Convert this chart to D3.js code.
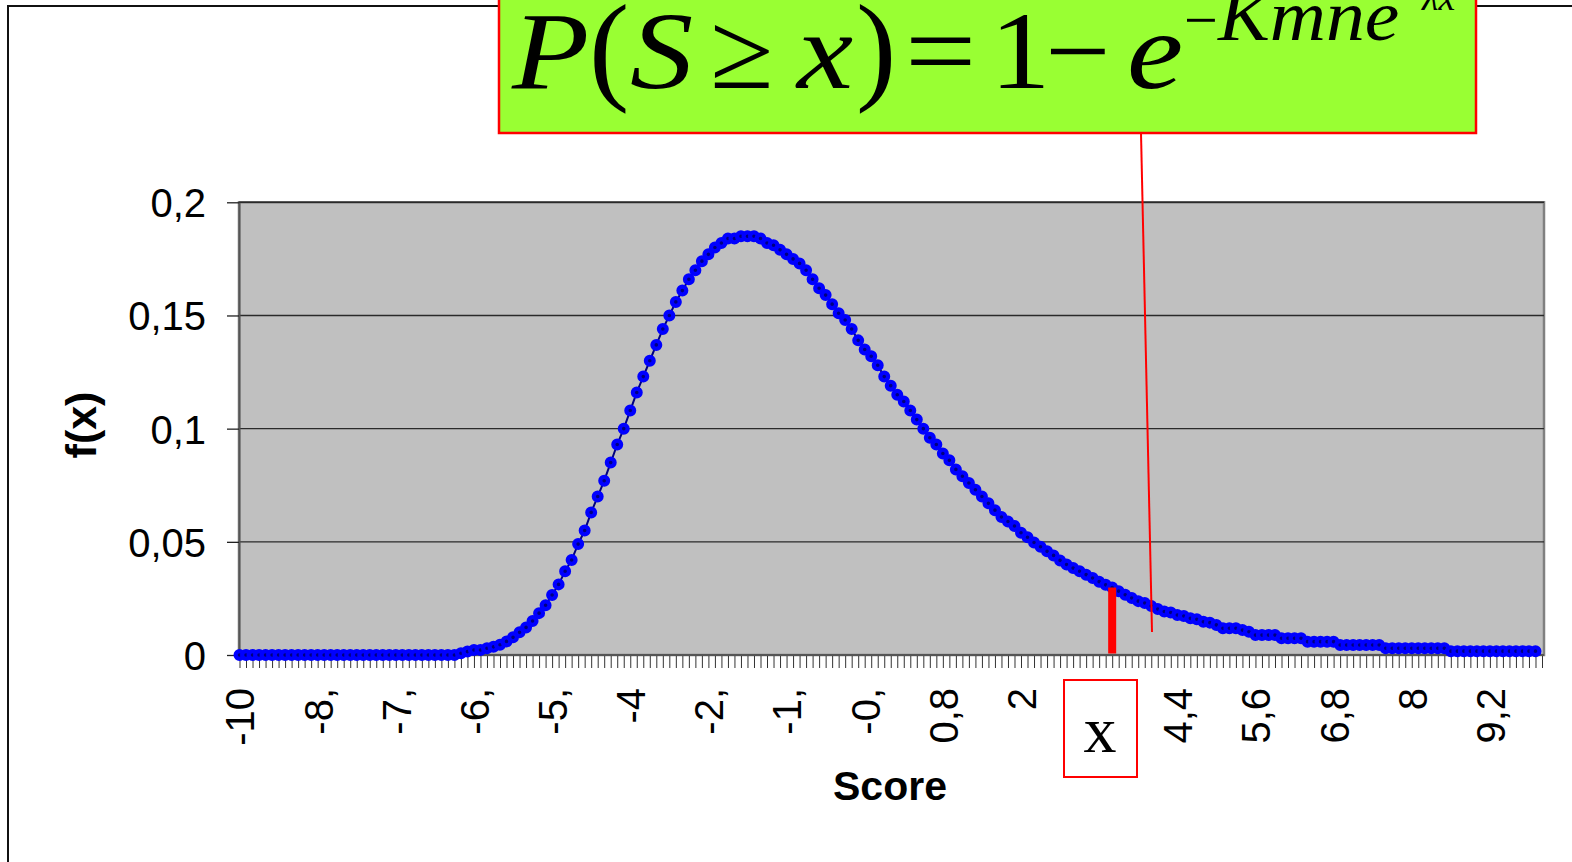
<!DOCTYPE html>
<html>
<head>
<meta charset="utf-8">
<script src="https://cdn.jsdelivr.net/npm/d3@7"></script>
<style>
  html, body { margin: 0; padding: 0; background: #fff; overflow: hidden; }
</style>
</head>
<body>
<svg id="chart" width="1572" height="862"></svg>
<script>
// Score categories: -10.0 … 9.9 in steps of 0.1
const categories = d3.range(-100, 100).map(k => k / 10);

// f(x) for each score category
const density = [
  0, 0, 0, 0, 0, 0, 0, 0, 0, 0,                                                   // -10.0 … -9.1
  0, 0, 0, 0, 0, 0, 0, 0, 0, 0,                                                   // -9.0 … -8.1
  0, 0, 0, 0, 0, 0, 0, 0, 0, 0,                                                   // -8.0 … -7.1
  0, 0, 0, 0, 0.0008, 0.0015, 0.0022, 0.0022, 0.0030, 0.0036,                     // -7.0 … -6.1
  0.0045, 0.0060, 0.0078, 0.0100, 0.0122, 0.0150, 0.0185, 0.0220, 0.0265, 0.0312, // -6.0 … -5.1
  0.037, 0.042, 0.049, 0.055, 0.063, 0.070, 0.077, 0.085, 0.093, 0.100,           // -5.0 … -4.1
  0.108, 0.116, 0.123, 0.130, 0.137, 0.144, 0.150, 0.156, 0.161, 0.166,           // -4.0 … -3.1
  0.170, 0.174, 0.177, 0.180, 0.182, 0.184, 0.184, 0.185, 0.185, 0.185,           // -3.0 … -2.1
  0.184, 0.182, 0.181, 0.179, 0.177, 0.175, 0.173, 0.170, 0.166, 0.162,           // -2.0 … -1.1
  0.159, 0.155, 0.151, 0.148, 0.144, 0.139, 0.135, 0.132, 0.128, 0.123,           // -1.0 … -0.1
  0.119, 0.115, 0.112, 0.108, 0.104, 0.100, 0.096, 0.093, 0.089, 0.086,           //  0.0 … 0.9
  0.082, 0.079, 0.076, 0.073, 0.070, 0.067, 0.064, 0.061, 0.059, 0.057,           //  1.0 … 1.9
  0.0540, 0.0520, 0.0497, 0.0478, 0.0458, 0.0440, 0.0418, 0.0400, 0.0384, 0.0370, //  2.0 … 2.9
  0.0355, 0.0340, 0.0324, 0.0310, 0.0298, 0.0282, 0.0266, 0.0252, 0.0238, 0.0230, //  3.0 … 3.9
  0.0216, 0.0203, 0.0192, 0.0188, 0.0177, 0.0172, 0.0162, 0.0158, 0.0147, 0.0143, //  4.0 … 4.9
  0.0133, 0.0118, 0.0118, 0.0118, 0.0110, 0.0103, 0.0088, 0.0088, 0.0088, 0.0088, //  5.0 … 5.9
  0.0074, 0.0074, 0.0074, 0.0074, 0.0059, 0.0059, 0.0059, 0.0059, 0.0059, 0.0044, //  6.0 … 6.9
  0.0044, 0.0044, 0.0044, 0.0044, 0.0044, 0.0044, 0.0030, 0.0030, 0.0030, 0.0030, //  7.0 … 7.9
  0.0030, 0.0030, 0.0030, 0.0030, 0.0030, 0.0030, 0.0017, 0.0017, 0.0017, 0.0017, //  8.0 … 8.9
  0.0017, 0.0017, 0.0017, 0.0017, 0.0017, 0.0017, 0.0017, 0.0017, 0.0017, 0.0017  //  9.0 … 9.9
];

const yTickValues = [0, 0.05, 0.1, 0.15, 0.2];
const yTickLabels = ["0", "0,05", "0,1", "0,15", "0,2"];

const xLabelValues = [-10, -8.8, -7.6, -6.4, -5.2, -4, -2.8, -1.6, -0.4, 0.8, 2, 3.2, 4.4, 5.6, 6.8, 8, 9.2];
const xTickLabels  = ["-10", "-8,", "-7,", "-6,", "-5,", "-4", "-2,", "-1,", "-0,", "0,8", "2", "3,2", "4,4", "5,6", "6,8", "8", "9,2"];

// score marked with the red bar
const markedScore = 3.4;

const SANS  = "'Liberation Sans', Arial, Helvetica, sans-serif";
const SERIF = "'Liberation Serif', 'Times New Roman', serif";

const W = 1572, H = 862;
const plot = { left: 239, right: 1544, top: 202.3, bottom: 655 };

const svg = d3.select("#chart");

const x = d3.scaleLinear().domain([-10, 10]).range([239.5, 1542]);
const y = d3.scaleLinear().domain([0, 0.2]).range([plot.bottom, plot.top]);

// outer frame
svg.append("rect")
  .attr("x", 8).attr("y", 6).attr("width", W).attr("height", H)
  .attr("fill", "none").attr("stroke", "#111").attr("stroke-width", 2);

// plot area
svg.append("rect")
  .attr("x", plot.left).attr("y", plot.top)
  .attr("width", plot.right - plot.left).attr("height", plot.bottom - plot.top)
  .attr("fill", "#c0c0c0").attr("stroke", "#808080").attr("stroke-width", 2.5);

// horizontal gridlines
svg.append("g").selectAll("line")
  .data(yTickValues.filter(v => v > 0))
  .join("line")
  .attr("x1", plot.left).attr("x2", plot.right)
  .attr("y1", d => y(d)).attr("y2", d => y(d))
  .attr("stroke", "#2a2a2a").attr("stroke-width", 1.4);

// y axis
const yAxisG = svg.append("g")
  .attr("transform", `translate(${plot.left},0)`)
  .call(d3.axisLeft(y)
    .tickValues(yTickValues)
    .tickFormat((d, i) => yTickLabels[i])
    .tickSize(12).tickSizeOuter(0).tickPadding(21));
yAxisG.select(".domain").attr("stroke", "#555").attr("stroke-width", 2);
yAxisG.selectAll(".tick line").attr("stroke", "#222").attr("stroke-width", 1.3);
yAxisG.selectAll("text")
  .attr("font-family", SANS).attr("font-size", 40).attr("fill", "#000").attr("dy", "0.36em");

// x axis: one tick per score category
const xTickG = svg.append("g")
  .attr("transform", `translate(0,${plot.bottom})`)
  .call(d3.axisBottom(x)
    .tickValues(categories.concat([10]))
    .tickFormat("")
    .tickSize(13).tickSizeOuter(0));
xTickG.select(".domain").remove();
xTickG.selectAll(".tick line").attr("stroke", "#333").attr("stroke-width", 1);

svg.append("line")
  .attr("x1", plot.left).attr("x2", plot.right)
  .attr("y1", plot.bottom).attr("y2", plot.bottom)
  .attr("stroke", "#555").attr("stroke-width", 2);

// x axis labels (rotated)
const xLabG = svg.append("g")
  .attr("transform", `translate(0,${plot.bottom})`)
  .call(d3.axisBottom(x)
    .tickValues(xLabelValues)
    .tickFormat((d, i) => xTickLabels[i])
    .tickSize(0).tickSizeOuter(0));
xLabG.select(".domain").remove();
xLabG.selectAll("text")
  .attr("transform", "rotate(-90)")
  .attr("x", -33).attr("y", 0).attr("dy", "0.36em")
  .attr("text-anchor", "end")
  .attr("font-family", SANS).attr("font-size", 40).attr("fill", "#000");

// density curve
const line = d3.line()
  .x((d, i) => x(categories[i]))
  .y(d => y(d));

svg.append("path")
  .datum(density)
  .attr("d", line)
  .attr("fill", "none")
  .attr("stroke", "#000080")
  .attr("stroke-width", 2);

svg.append("g").selectAll("circle")
  .data(density)
  .join("circle")
  .attr("cx", (d, i) => x(categories[i]))
  .attr("cy", d => y(d))
  .attr("r", 3.9)
  .attr("fill", "#000080")
  .attr("stroke", "#0000ff")
  .attr("stroke-width", 4.2);

// red bar at the marked score
const mi = categories.findIndex(c => Math.abs(c - markedScore) < 1e-9);
svg.append("rect")
  .attr("x", x(markedScore) - 4)
  .attr("width", 8)
  .attr("y", y(density[mi]))
  .attr("height", y(0) - y(density[mi]) - 1.5)
  .attr("fill", "#ff0000");

// callout pointer
svg.append("line")
  .attr("x1", 1141).attr("y1", 133)
  .attr("x2", 1152).attr("y2", 632)
  .attr("stroke", "#ff0000").attr("stroke-width", 2);

// formula box
svg.append("rect")
  .attr("x", 499).attr("y", -10).attr("width", 977).attr("height", 143)
  .attr("fill", "#99ff33").attr("stroke", "#ff0000").attr("stroke-width", 2.5);

// P(S ≥ x) = 1 − e^(−Kmn e^(−λx)), set glyph by glyph
const formula = [
  { t: "P",      x: 512,  y: 88, s: 110, i: true,  k: 1.15 },
  { t: "(",      x: 589,  y: 88, s: 121, i: false, k: 1.0  },
  { t: "S",      x: 630,  y: 88, s: 110, i: true,  k: 1.15 },
  { t: "\u2265", x: 710,  y: 88, s: 110, i: false, k: 1.05 },
  { t: "x",      x: 797,  y: 88, s: 110, i: true,  k: 1.15 },
  { t: ")",      x: 856,  y: 88, s: 121, i: false, k: 1.0  },
  { t: "=",      x: 905,  y: 88, s: 110, i: false, k: 1.15 },
  { t: "1",      x: 990,  y: 88, s: 110, i: false, k: 1.1  },
  { t: "\u2212", x: 1045, y: 88, s: 110, i: false, k: 1.05 },
  { t: "e",      x: 1127, y: 88, s: 110, i: true,  k: 1.15 },
  { t: "\u2212", x: 1184, y: 40, s: 60,  i: false, k: 1.0  },
  { t: "Kmne",   x: 1218, y: 40, s: 72,  i: true,  k: 1.08 },
  { t: "\u2212", x: 1400, y: 10, s: 38,  i: false, k: 1.0  },
  { t: "\u03bbx", x: 1422, y: 10, s: 38, i: true,  k: 1.0  }
];
svg.append("g").selectAll("text")
  .data(formula)
  .join("text")
  .attr("transform", d => `translate(${d.x},${d.y}) scale(${d.k},1)`)
  .attr("font-family", SERIF)
  .attr("font-size", d => d.s)
  .attr("font-style", d => d.i ? "italic" : "normal")
  .attr("fill", "#000")
  .text(d => d.t);

// "x" box over the 3,2 label
svg.append("rect")
  .attr("x", 1064).attr("y", 680).attr("width", 73).attr("height", 97)
  .attr("fill", "#fff").attr("stroke", "#ff0000").attr("stroke-width", 2);
svg.append("text")
  .attr("x", 1100).attr("y", 752)
  .attr("text-anchor", "middle")
  .attr("font-family", SERIF).attr("font-size", 66)
  .attr("fill", "#000")
  .text("x");

// axis titles
svg.append("text")
  .attr("x", 890).attr("y", 800)
  .attr("text-anchor", "middle")
  .attr("font-family", SANS).attr("font-size", 41).attr("font-weight", "bold")
  .attr("fill", "#000")
  .text("Score");

svg.append("text")
  .attr("transform", "translate(81,425) rotate(-90)")
  .attr("text-anchor", "middle")
  .attr("dy", "0.36em")
  .attr("font-family", SANS).attr("font-size", 43).attr("font-weight", "bold")
  .attr("fill", "#000")
  .text("f(x)");
</script>
</body>
</html>
